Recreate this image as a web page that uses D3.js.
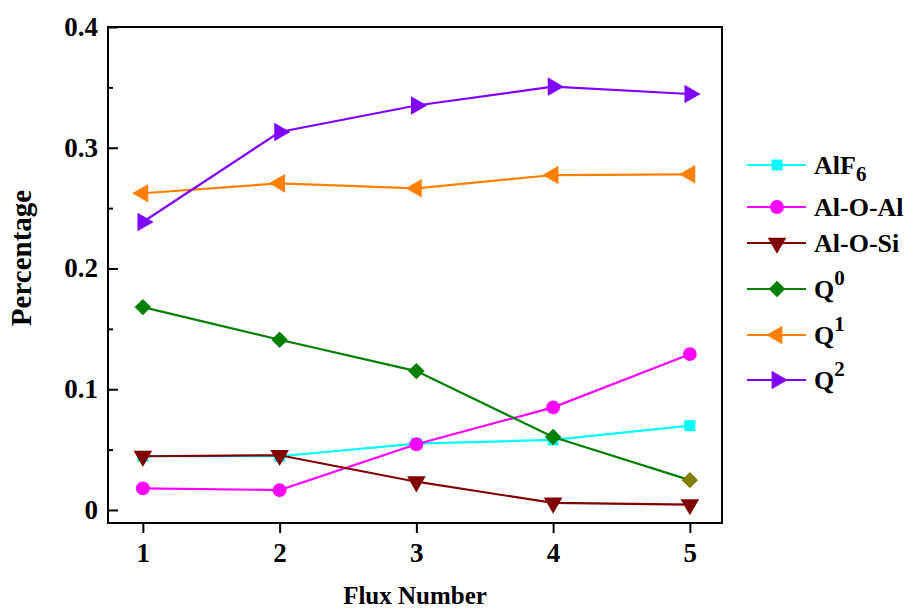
<!DOCTYPE html>
<html>
<head>
<meta charset="utf-8">
<script src="https://cdn.jsdelivr.net/npm/d3@7"></script>
<style>
  body { margin: 0; background: #fff; }
  text { font-family: "Liberation Serif", "Times New Roman", serif; font-weight: bold; }
</style>
</head>
<body>
<script>
const fluxNumbers = [1, 2, 3, 4, 5];
const yTicks = [0, 0.1, 0.2, 0.3, 0.4];

const alf6   = [0.0445, 0.0445, 0.055, 0.058, 0.0698];
const aloal  = [0.0179, 0.0165, 0.0544, 0.085, 0.129];
const alosi  = [0.0445, 0.0453, 0.0234, 0.0058, 0.0045];
const q0     = [0.168, 0.141, 0.115, 0.0604, 0.0247];
const q1     = [0.2623, 0.2705, 0.2664, 0.2774, 0.278];
const q2     = [0.2385, 0.313, 0.335, 0.3506, 0.3445];

const seriesNames = ["AlF", "Al-O-Al", "Al-O-Si", "Q", "Q", "Q"];
const seriesScripts = ["6", "", "", "0", "1", "2"];

const series = [
  {values: alf6,  color: "#00ffff", symbol: d3.symbolSquare,   rotate: 0,   size: 120},
  {values: aloal, color: "#ff00ff", symbol: d3.symbolCircle,   rotate: 0,   size: 150},
  {values: alosi, color: "#800000", symbol: d3.symbolTriangle, rotate: 180, size: 150},
  {values: q0,    color: "#008000", symbol: d3.symbolSquare,   rotate: 45,  size: 135},
  {values: q1,    color: "#ff8000", symbol: d3.symbolTriangle, rotate: -90, size: 150},
  {values: q2,    color: "#8000ff", symbol: d3.symbolTriangle, rotate: 90,  size: 150}
];

const width = 912, height = 611;
const box = {left: 108, right: 722, top: 27, bottom: 523};

const svg = d3.select("body").append("svg")
  .attr("width", width)
  .attr("height", height);

const x = d3.scaleLinear().domain([0.745, 5.235]).range([box.left, box.right]);
const y = d3.scaleLinear().domain([-0.0108, 0.4]).range([box.bottom, box.top]);

// frame
svg.append("rect")
  .attr("x", box.left).attr("y", box.top)
  .attr("width", box.right - box.left).attr("height", box.bottom - box.top)
  .attr("fill", "none").attr("stroke", "#000").attr("stroke-width", 2);

// y axis: ticks point inward
const yAxis = svg.append("g")
  .attr("transform", `translate(${box.left},0)`)
  .call(d3.axisRight(y).tickValues(yTicks).tickSize(10).tickFormat(d => ""));
yAxis.select(".domain").remove();
yAxis.selectAll("line").attr("stroke-width", 2);

const yMinor = svg.append("g")
  .attr("transform", `translate(${box.left},0)`)
  .call(d3.axisRight(y).tickValues([0.05, 0.15, 0.25, 0.35]).tickSize(5).tickFormat(""));
yMinor.select(".domain").remove();
yMinor.selectAll("line").attr("stroke-width", 2);

svg.append("g").selectAll("text")
  .data(yTicks)
  .enter().append("text")
  .attr("x", box.left - 10)
  .attr("y", d => y(d) + 9)
  .attr("text-anchor", "end")
  .attr("font-size", 27)
  .text(d => d === 0 ? "0" : d3.format(".1f")(d));

// x axis: ticks point outward
const xAxis = svg.append("g")
  .attr("transform", `translate(0,${box.bottom})`)
  .call(d3.axisBottom(x).tickValues(fluxNumbers).tickSize(10).tickPadding(10).tickFormat(d3.format("d")));
xAxis.select(".domain").remove();
xAxis.selectAll("line").attr("stroke-width", 2);
xAxis.selectAll("text")
  .attr("font-size", 27)
  .attr("font-family", "Liberation Serif, serif")
  .attr("fill", "#000");

svg.append("text")
  .attr("x", (box.left + box.right) / 2)
  .attr("y", 604)
  .attr("text-anchor", "middle")
  .attr("font-size", 25)
  .text("Flux Number");

svg.append("text")
  .attr("transform", "translate(31,258) rotate(-90)")
  .attr("text-anchor", "middle")
  .attr("font-size", 29)
  .text("Percentage");

// lines and markers
const line = d3.line()
  .x((d, i) => x(fluxNumbers[i]))
  .y(d => y(d));

series.forEach((s, k) => {
  const g = svg.append("g");
  g.append("path")
    .attr("d", line(s.values))
    .attr("fill", "none")
    .attr("stroke", s.color)
    .attr("stroke-width", 2.2);
  g.selectAll("path.marker")
    .data(s.values)
    .enter().append("path")
    .attr("class", "marker")
    .attr("d", d3.symbol().type(s.symbol).size(s.size))
    .attr("transform", (d, i) => `translate(${x(fluxNumbers[i])},${y(d)}) rotate(${s.rotate})`)
    .attr("fill", (d, i) => (k === 3 && i === 4) ? "#808000" : s.color);
});

// legend
const legendRows = [165, 207, 243, 289, 335, 380];
const legend = svg.append("g");
series.forEach((s, k) => {
  const row = legend.append("g").attr("transform", `translate(0,${legendRows[k]})`);
  row.append("line")
    .attr("x1", 747).attr("x2", 806)
    .attr("stroke", s.color).attr("stroke-width", 2.2);
  row.append("path")
    .attr("d", d3.symbol().type(s.symbol).size(s.size))
    .attr("transform", `translate(777,0) rotate(${s.rotate})`)
    .attr("fill", s.color);
  const t = row.append("text")
    .attr("x", 814)
    .attr("y", 9)
    .attr("font-size", 26)
    .text(seriesNames[k]);
  if (seriesScripts[k]) {
    const sub = k === 0;
    t.append("tspan")
      .attr("font-size", 21)
      .attr("dy", sub ? 7 : -13)
      .text(seriesScripts[k]);
  }
});
</script>
</body>
</html>
